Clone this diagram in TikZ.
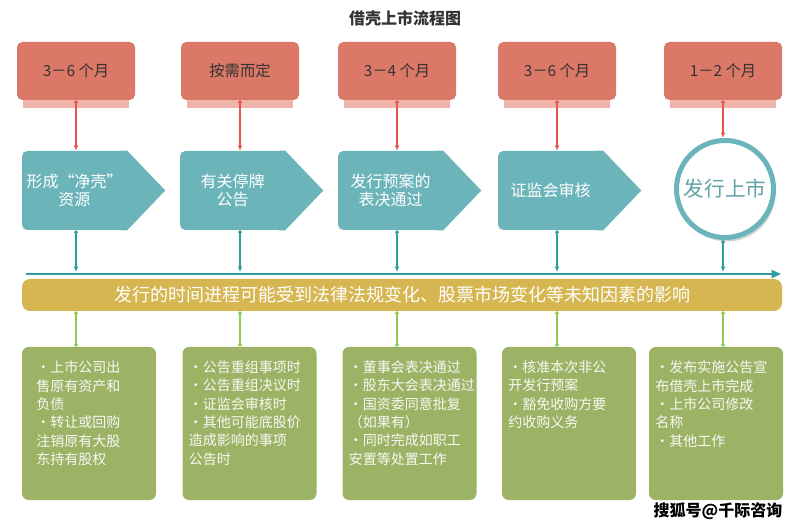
\documentclass[tikz,border=0pt]{standalone}
\usepackage{fontspec}
\setmainfont{Noto Sans CJK SC}
\usetikzlibrary{arrows.meta,shadows}
\definecolor{periodred}{HTML}{DB7868}
\definecolor{periodshade}{HTML}{EEB4A9}
\definecolor{leadred}{HTML}{E8554E}
\definecolor{stageteal}{HTML}{6BB4BA}
\definecolor{lineteal}{HTML}{2E9E9B}
\definecolor{bandgold}{HTML}{D6B651}
\definecolor{taskgreen}{HTML}{9CB265}
\definecolor{linkgreen}{HTML}{8CCB4E}
\definecolor{textgray}{HTML}{333333}
\newcommand\tasktext[1]{\parbox[c][94pt][t]{91pt}{\raggedright #1}}
\tikzset{
  title/.style={font=\bfseries\fontsize{12pt}{14pt}\selectfont, text=textgray},
  period/.style={fill=periodred, rounded corners=4pt, minimum width=88.5pt, minimum height=43.5pt,
    text=textgray, font=\fontsize{11.5pt}{13pt}\selectfont},
  stage/.style={fill=stageteal, rounded corners=4pt, minimum width=78.75pt, minimum height=59.25pt,
    align=center, text=white, font=\fontsize{12pt}{14pt}\selectfont},
  finish/.style={circle, fill=white, draw=stageteal, line width=3.75pt, minimum size=72.75pt,
    text=stageteal!90!black, font=\fontsize{15.5pt}{17pt}\selectfont,
    drop shadow={shadow xshift=1.5pt, shadow yshift=-3pt, opacity=0.35, fill=gray}},
  band/.style={fill=bandgold, rounded corners=6pt, minimum width=570pt, minimum height=24pt,
    text=white, font=\fontsize{13.5pt}{15pt}\selectfont},
  task/.style={fill=taskgreen, rounded corners=5pt, minimum width=100.5pt, minimum height=114.75pt,
    inner xsep=4.5pt, inner ysep=10pt, text=white!92!taskgreen, font=\fontsize{10.5pt}{13.75pt}\selectfont},
  leadin/.style={leadred, line width=0.8pt, {Circle[length=3pt]}-{Latex[length=4pt,width=3.5pt]}},
  leadout/.style={lineteal, line width=0.8pt, {Circle[length=3pt]}-{Latex[length=4pt,width=3.5pt]}, shorten >=1.5pt},
  link/.style={linkgreen, line width=0.8pt, {Circle[length=3pt]}-{Circle[length=3pt]}},
  timeline/.style={lineteal, line width=1.5pt, -{Triangle[length=7pt,width=6pt]}}
}
\begin{document}
\begin{tikzpicture}[x=0.75pt,y=-0.75pt]
\useasboundingbox (0,0) rectangle (800,527);
\node[title] (title) at (405,18) {借壳上市流程图};
% time for each step
\node[period] (r1) at (76,71) {3－6 个月};
\node[period] (r2) at (240,71) {按需而定};
\node[period] (r3) at (397,71) {3－4 个月};
\node[period] (r4) at (557,71) {3－6 个月};
\node[period] (r5) at (723,71) {1－2 个月};
\fill[periodshade] ([xshift=4.5pt]r1.south west) rectangle ([xshift=-4.5pt,yshift=-6pt]r1.south east);
\fill[periodshade] ([xshift=4.5pt]r2.south west) rectangle ([xshift=-4.5pt,yshift=-6pt]r2.south east);
\fill[periodshade] ([xshift=4.5pt]r3.south west) rectangle ([xshift=-4.5pt,yshift=-6pt]r3.south east);
\fill[periodshade] ([xshift=4.5pt]r4.south west) rectangle ([xshift=-4.5pt,yshift=-6pt]r4.south east);
\fill[periodshade] ([xshift=4.5pt]r5.south west) rectangle ([xshift=-4.5pt,yshift=-6pt]r5.south east);
% steps
\node[stage] (s1) at (74.5,190.5) {形成“净壳”\\资源};
\node[stage] (s2) at (232.5,190.5) {有关停牌\\公告};
\node[stage] (s3) at (390.5,190.5) {发行预案的\\表决通过};
\node[stage] (s4) at (550.5,190.5) {证监会审核};
\fill[stageteal] ([xshift=-5pt]s1.north east) -- (s1.north east) -- ([xshift=28.5pt]s1.east) -- (s1.south east) -- ([xshift=-5pt]s1.south east) -- cycle;
\fill[stageteal] ([xshift=-5pt]s2.north east) -- (s2.north east) -- ([xshift=28.5pt]s2.east) -- (s2.south east) -- ([xshift=-5pt]s2.south east) -- cycle;
\fill[stageteal] ([xshift=-5pt]s3.north east) -- (s3.north east) -- ([xshift=28.5pt]s3.east) -- (s3.south east) -- ([xshift=-5pt]s3.south east) -- cycle;
\fill[stageteal] ([xshift=-5pt]s4.north east) -- (s4.north east) -- ([xshift=28.5pt]s4.east) -- (s4.south east) -- ([xshift=-5pt]s4.south east) -- cycle;
\node[finish] (s5) at (725,189) {发行上市};
\draw[leadin] (r1.south) -- (r1.south |- s1.north);
\draw[leadin] (r2.south) -- (r2.south |- s2.north);
\draw[leadin] (r3.south) -- (r3.south |- s3.north);
\draw[leadin] (r4.south) -- (r4.south |- s4.north);
\draw[leadin] (r5.south) -- (r5.south |- s5.north);
% time line
\coordinate (tl) at (26,274);
\coordinate (tr) at (781,274);
\draw[timeline] (tl) -- (tr);
\draw[leadout] (r1.south |- s1.south) -- (r1.south |- tl);
\draw[leadout] (r2.south |- s2.south) -- (r2.south |- tl);
\draw[leadout] (r3.south |- s3.south) -- (r3.south |- tl);
\draw[leadout] (r4.south |- s4.south) -- (r4.south |- tl);
\draw[leadout] (r5.south |- s5.south) -- (r5.south |- tl);
\node[band] (band) at (402,295) {发行的时间进程可能受到法律法规变化、股票市场变化等未知因素的影响};
% work in each step
\node[task] (g1) at (89,423.5) {\tasktext{\leftskip=6pt ·上市公司出\\售原有资产和\\负债\\·转让或回购\\注销原有大股\\东持有股权}};
\node[task] (g2) at (249.5,423.5) {\tasktext{·公告重组事项时\\·公告重组决议时\\·证监会审核时\\·其他可能底股价\\造成影响的事项\\公告时}};
\node[task] (g3) at (409.5,423.5) {\tasktext{·董事会表决通过\\·股东大会表决通过\\·国资委同意批复\\（如果有）\\·同时完成如职工\\安置等处置工作}};
\node[task] (g4) at (569,423.5) {\tasktext{·核准本次非公\\开发行预案\\·豁免收购方要\\约收购义务}};
\node[task] (g5) at (716,423.5) {\tasktext{·发布实施公告宣\\布借壳上市完成\\·上市公司修改\\名称\\·其他工作}};
\draw[link] (r1.south |- band.south) -- (r1.south |- g1.north);
\draw[link] (r2.south |- band.south) -- (r2.south |- g2.north);
\draw[link] (r3.south |- band.south) -- (r3.south |- g3.north);
\draw[link] (r4.south |- band.south) -- (r4.south |- g4.north);
\draw[link] (r5.south |- band.south) -- (r5.south |- g5.north);
\node[font=\bfseries\fontsize{12pt}{14pt}\selectfont] (source) at (718,511) {搜狐号@千际咨询};
\end{tikzpicture}
\end{document}
